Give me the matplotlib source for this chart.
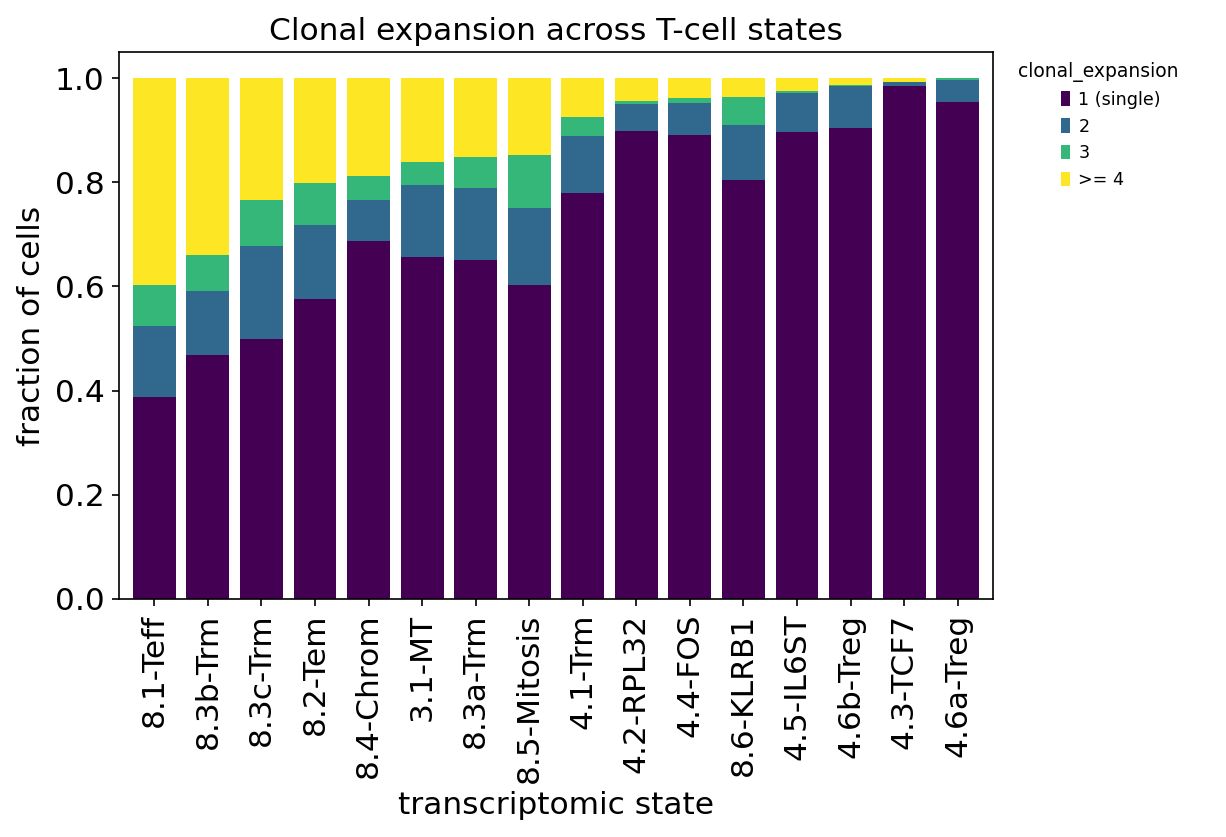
import matplotlib
matplotlib.use("Agg")
import matplotlib.pyplot as plt
from matplotlib.patches import Rectangle
from matplotlib.container import BarContainer
from matplotlib.legend_handler import HandlerPatch, update_from_first_child
import numpy as np

states = ["8.1-Teff", "8.3b-Trm", "8.3c-Trm", "8.2-Tem", "8.4-Chrom", "3.1-MT",
          "8.3a-Trm", "8.5-Mitosis", "4.1-Trm", "4.2-RPL32", "4.4-FOS", "8.6-KLRB1",
          "4.5-IL6ST", "4.6b-Treg", "4.3-TCF7", "4.6a-Treg"]
categories = ["1 (single)", "2", "3", ">= 4"]

# cumulative tops
top_single = [0.388, 0.468, 0.499, 0.576, 0.687, 0.656, 0.651, 0.603,
              0.779, 0.898, 0.891, 0.804, 0.896, 0.904, 0.985, 0.954]
top_2 = [0.524, 0.591, 0.678, 0.718, 0.766, 0.795, 0.789, 0.750,
         0.889, 0.950, 0.952, 0.910, 0.971, 0.985, 0.992, 0.996]
top_3 = [0.603, 0.660, 0.766, 0.798, 0.812, 0.839, 0.848, 0.852,
         0.925, 0.956, 0.962, 0.964, 0.975, 0.986, 0.993, 1.000]
top_4 = [1.0] * 16

tops = np.array([top_single, top_2, top_3, top_4])
fracs = np.diff(np.vstack([np.zeros(len(states)), tops]), axis=0)

colors = ["#440154", "#31688e", "#35b779", "#fde725"]

fig = plt.figure(figsize=(1226 / 150, 837 / 150), dpi=150)
ax = fig.add_axes([119 / 1226, 1 - 599 / 837, 874 / 1226, 547 / 837])
x = np.arange(len(states))
bottom = np.zeros(len(states))
for i, cat in enumerate(categories):
    ax.bar(x, fracs[i], bottom=bottom, width=0.8, color=colors[i], label=cat)
    bottom += fracs[i]

fs = 15
ax.set_xlim(-0.66, 15.66)
ax.set_ylim(0, 1.05)
ax.set_xticks(x)
ax.set_xticklabels(states, rotation=90, fontsize=fs)
ax.tick_params(axis="y", labelsize=fs)
ax.set_xlabel("transcriptomic state", fontsize=fs)
ax.set_ylabel("fraction of cells", fontsize=fs)
ax.set_title("Clonal expansion across T-cell states", fontsize=fs)


def right_rect(legend, orig_handle, xdescent, ydescent, width, height, fontsize):
    w = 0.52 * fontsize
    return Rectangle((-xdescent + width - w, -ydescent), w, height)


leg = ax.legend(title="clonal_expansion", bbox_to_anchor=(1.0104, 1.0105), loc="upper left",
                frameon=False, fontsize=8.4, title_fontsize=9, handlelength=2.0,
                handleheight=0.9, handletextpad=0.45, labelspacing=0.5,
                handler_map={BarContainer: HandlerPatch(patch_func=right_rect,
                                                        update_func=update_from_first_child)})
fig.savefig("out.png", dpi=150)
